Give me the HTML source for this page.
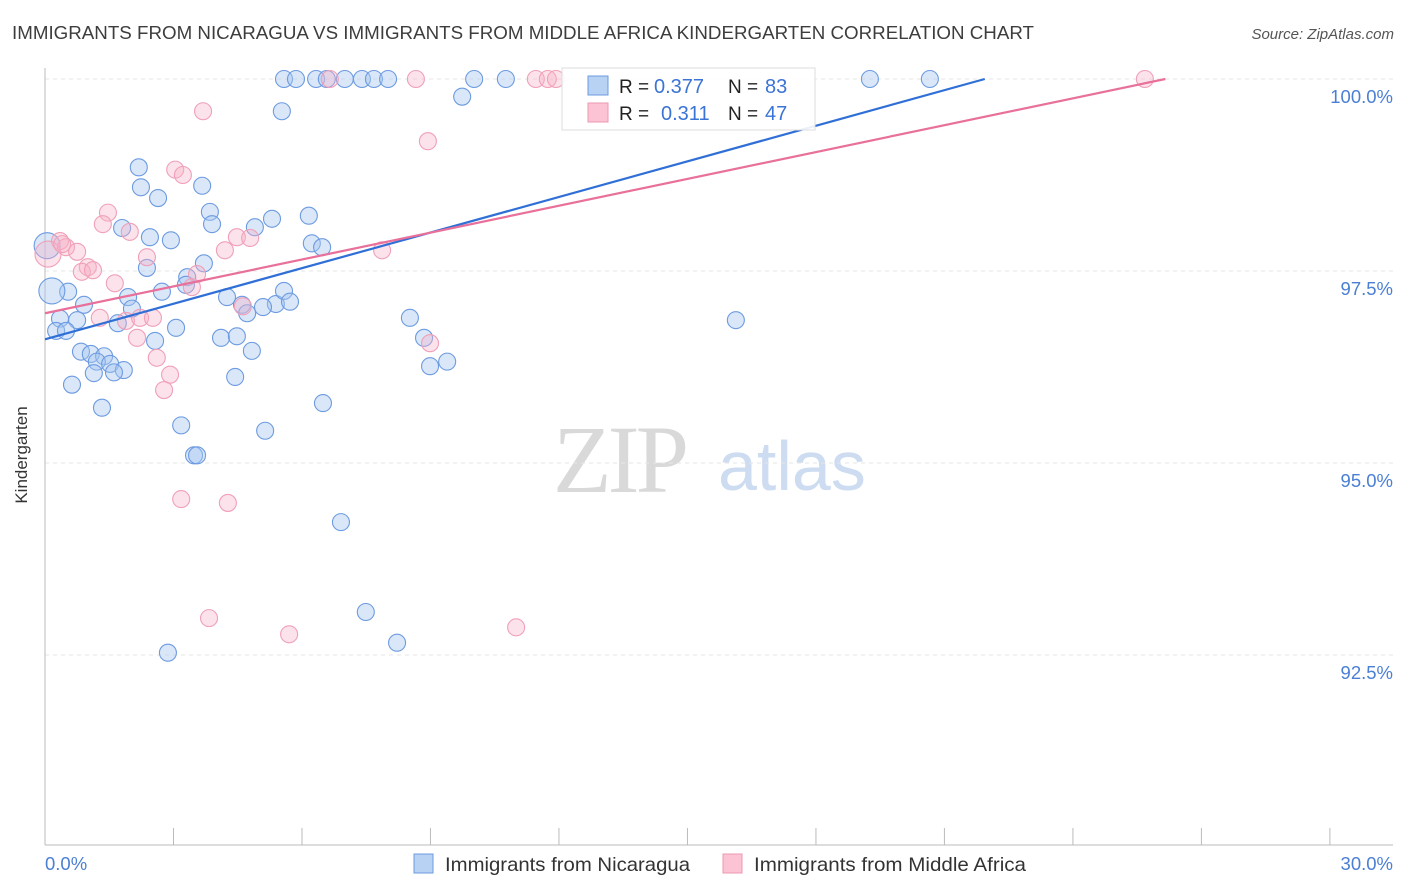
<!DOCTYPE html>
<html><head><meta charset="utf-8"><style>
body{margin:0;background:#fff;font-family:"Liberation Sans",sans-serif}
svg{display:block}
</style></head><body>
<svg id="chart" width="1406" height="892" xmlns="http://www.w3.org/2000/svg">
<text x="12" y="39" font-size="18" fill="#3d3d3d" textLength="1022" lengthAdjust="spacingAndGlyphs">IMMIGRANTS FROM NICARAGUA VS IMMIGRANTS FROM MIDDLE AFRICA KINDERGARTEN CORRELATION CHART</text>
<text x="1394" y="39" font-size="15" fill="#555" text-anchor="end" font-style="italic">Source: ZipAtlas.com</text>
<text x="27" y="455" font-size="17" fill="#333" text-anchor="middle" transform="rotate(-90 27 455)">Kindergarten</text>
<g>
<text x="553" y="492" font-size="96" fill="#d9d9d9" font-family="Liberation Serif,serif" letter-spacing="-4">ZIP</text>
<text x="718" y="490" font-size="70" fill="#cddcf1">atlas</text>
</g>
<g id="grid"></g>
<g id="axes"></g>
<g id="marks"></g>
<g id="lines"></g>
<g>
<rect x="562" y="68" width="253" height="62" fill="#fff" fill-opacity="0.9" stroke="#ddd"/>
<rect x="588" y="76" width="20" height="19" fill="#b8d2f4" stroke="#6e9be0"/>
<rect x="588" y="103" width="20" height="19" fill="#fbc3d3" stroke="#ee9ab3"/>
<text x="619" y="93" font-size="19" fill="#222">R =</text>
<text x="654" y="93" font-size="20" fill="#3b74d4">0.377</text>
<text x="728" y="93" font-size="19" fill="#222">N =</text>
<text x="765" y="93" font-size="20" fill="#3b74d4">83</text>
<text x="619" y="120" font-size="19" fill="#222">R =</text>
<text x="661" y="120" font-size="20" fill="#3b74d4">0.311</text>
<text x="728" y="120" font-size="19" fill="#222">N =</text>
<text x="765" y="120" font-size="20" fill="#3b74d4">47</text>
</g>
<g>
<rect x="414" y="854" width="19" height="19" fill="#b8d2f4" stroke="#6e9be0"/>
<text x="445" y="871" font-size="19.5" fill="#333" textLength="245" lengthAdjust="spacingAndGlyphs">Immigrants from Nicaragua</text>
<rect x="723" y="854" width="19" height="19" fill="#fbc3d3" stroke="#ee9ab3"/>
<text x="754" y="871" font-size="19.5" fill="#333" textLength="272" lengthAdjust="spacingAndGlyphs">Immigrants from Middle Africa</text>
</g>
</svg>
<script>
const blueX=[5.58,5.86,6.33,6.58,7.00,7.40,7.68,8.01,10.02,10.76,19.26,20.66,9.74,5.53,2.19,2.24,2.64,3.67,3.85,3.90,1.80,2.45,2.94,5.30,4.90,6.16,6.23,6.47,3.71,2.38,3.32,3.29,2.73,1.94,0.54,0.16,0.91,2.03,4.25,4.60,4.72,5.39,5.58,5.72,5.09,0.35,0.75,1.70,0.26,0.49,3.06,2.57,4.11,4.48,4.83,0.84,1.07,1.38,1.21,1.52,1.84,1.14,1.61,4.44,0.63,1.33,3.18,5.14,3.48,3.55,6.49,6.91,7.49,8.22,2.87,8.52,8.85,8.99,9.39,16.13,0.05];
const blueY=[100,100,100,100,100,100,100,100,100,100,100,100,99.77,99.58,98.85,98.59,98.45,98.61,98.27,98.11,98.06,97.94,97.90,98.18,98.07,98.22,97.86,97.81,97.60,97.54,97.42,97.32,97.23,97.16,97.23,97.24,97.06,97.01,97.16,97.06,96.95,97.07,97.24,97.10,97.03,96.88,96.86,96.82,96.72,96.72,96.76,96.59,96.63,96.65,96.46,96.45,96.42,96.39,96.32,96.29,96.21,96.17,96.18,96.12,96.02,95.72,95.49,95.42,95.10,95.10,95.78,94.23,93.06,92.66,92.53,96.89,96.63,96.26,96.32,96.86,97.83];
const blueBig=[35,80];
const pinkX=[6.65,11.46,11.74,11.93,25.68,8.66,3.69,8.94,3.04,3.22,1.47,1.35,1.98,0.35,0.49,0.75,0.07,1.00,0.86,1.12,1.63,2.38,4.20,4.48,4.79,3.55,3.43,4.62,1.28,1.89,2.22,2.52,2.15,2.61,2.92,2.78,8.99,7.87,3.18,4.27,3.83,5.70,11.00,0.40];
const pinkY=[100,100,100,100,100,100,99.58,99.19,98.82,98.75,98.26,98.11,98.01,97.89,97.81,97.75,97.72,97.55,97.49,97.51,97.34,97.68,97.77,97.94,97.93,97.46,97.29,97.04,96.89,96.85,96.89,96.89,96.63,96.37,96.15,95.95,96.56,97.77,94.53,94.48,92.98,92.77,92.86,97.85];
const pinkBig=[16];
const trendBlue=[96.61,0.1545];
const trendPink=[96.95,0.1166];
const yTicks=[100,97.5,95,92.5];
const yTickLabels=["100.0%","97.5%","95.0%","92.5%"];
const xTicks=[0,3,6,9,12,15,18,21,24,27,30];
const NS="http://www.w3.org/2000/svg";
const sx=v=>45+v*42.83, sy=v=>79+(100-v)*76.8;
function mk(tag,attrs,parent){const e=document.createElementNS(NS,tag);for(const k in attrs)e.setAttribute(k,attrs[k]);document.getElementById(parent).appendChild(e);return e;}
yTicks.forEach((t,i)=>{
 const g=mk('line',{x1:45,x2:1393,y1:sy(t),y2:sy(t),stroke:'#e6e6e6','stroke-dasharray':'4,4'},'grid');
 
 
 const l=mk('text',{x:1393,y:sy(t)+24,'font-size':18.5,fill:'#4a7fd4','text-anchor':'end'},'axes');
 l.textContent=yTickLabels[i];
 
 
});
const ax=mk('line',{x1:45,x2:45,y1:68,y2:845,stroke:'#bbb'},'axes');


const bx=mk('line',{x1:45,x2:1393,y1:845,y2:845,stroke:'#bbb'},'axes');


xTicks.forEach(t=>{const e=mk('line',{x1:sx(t),x2:sx(t),y1:828,y2:845,stroke:'#bbb'},'axes');
 
 });
const x0=mk('text',{x:45,y:870,'font-size':18.5,fill:'#4a7fd4'},'axes');x0.textContent='0.0%';


const x1=mk('text',{x:1393,y:870,'font-size':18.5,fill:'#4a7fd4','text-anchor':'end'},'axes');x1.textContent='30.0%';


function pts(X,Y,big,fill,stroke,name){X.forEach((v,i)=>{
 const c=mk('circle',{cx:sx(v),cy:sy(Y[i]),r:big.includes(i)?13:8.5,fill:fill,stroke:stroke,'stroke-width':1.1},'marks');
 
 });}
pts(blueX,blueY,blueBig,'rgba(165,198,240,0.42)','#6d9be0','point-nicaragua');
pts(pinkX,pinkY,pinkBig,'rgba(246,178,200,0.38)','#f0a0b8','point-middle-africa');
function trend(t,col,name){const xe=(100-t[0])/t[1];
 const l=mk('line',{x1:sx(0),y1:sy(t[0]),x2:sx(xe),y2:sy(100),stroke:col,'stroke-width':2.2},'lines');
 
 }
trend(trendBlue,'#2f6fd6','trend-line-nicaragua');
trend(trendPink,'#e8709a','trend-line-middle-africa');
</script>
</body></html>
